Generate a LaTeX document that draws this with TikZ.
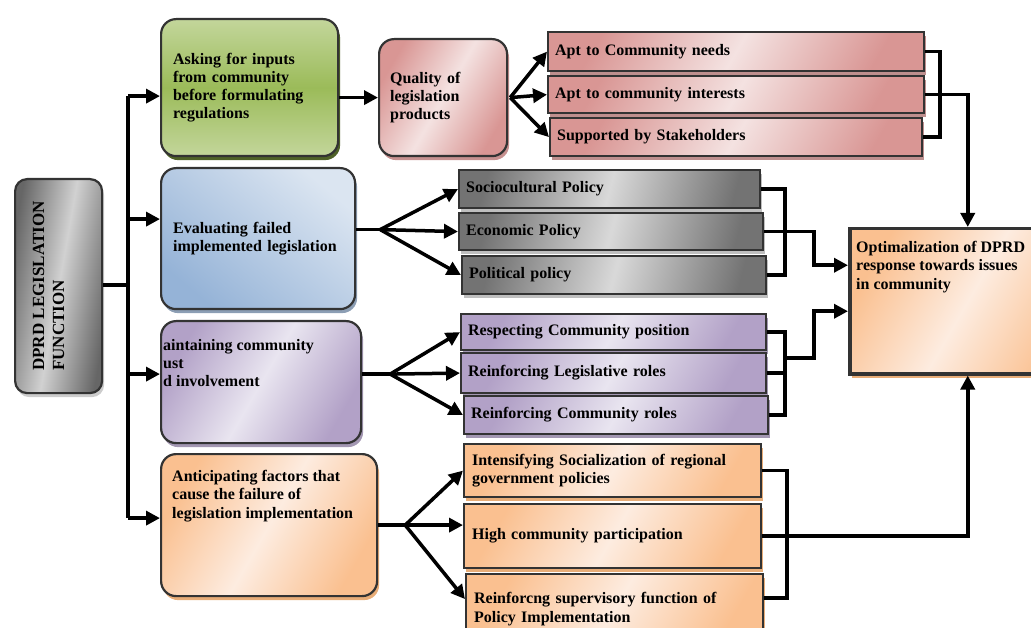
\documentclass[tikz,border=0pt]{standalone}
\usepackage{fontspec}
\setmainfont{Liberation Serif}
\usepackage{tikz}
\usetikzlibrary{arrows.meta,positioning,shadows,calc}

\definecolor{grnL}{HTML}{C3D69B}
\definecolor{grnD}{HTML}{9BBB59}
\definecolor{grnS}{HTML}{4F6228}
\definecolor{bluL}{HTML}{DBE5F1}
\definecolor{bluD}{HTML}{95B3D7}
\definecolor{purL}{HTML}{E9E5F0}
\definecolor{purD}{HTML}{B2A1C7}
\definecolor{orgL}{HTML}{FDECE0}
\definecolor{orgD}{HTML}{FAC090}
\definecolor{pnkL}{HTML}{F4E2E1}
\definecolor{pnkD}{HTML}{D99694}
\definecolor{edge}{HTML}{333333}

\newcommand{\fdfont}{\fontsize{16}{18.3}\selectfont\bfseries}

\tikzset{
  fd/frame/.style={draw=edge, line width=2.2pt, anchor=north west, inner ysep=0pt},
  fd/box/.style={fd/frame, rounded corners=15pt, align=left, font=\fdfont, inner xsep=12pt},
  fd/bar/.style={fd/frame, align=left, font=\fdfont, inner xsep=7pt},
  fd/label/.style={anchor=north west, align=left, inner sep=0pt, font=\fdfont},
  fd/tint/.style 2 args={left color=#1, right color=#1, middle color=#2, shading angle=60},
  fd/shade/.style={drop shadow={shadow xshift=2pt, shadow yshift=-4pt, fill=#1, opacity=1}},
  fd/line/.style={line width=3.5pt},
  fd/arrow/.style={fd/line, -{Triangle[length=14pt,width=14pt]}}
}

\begin{document}
\begin{tikzpicture}[x=1pt, y=-1pt]
  \useasboundingbox (0,0) rectangle (1031,628);
  \clip (0,0) rectangle (1031,628);

  \node[fd/box, rounded corners=12pt, fd/tint={black!60}{black!18}, shading angle=80, fd/shade=black!20, minimum width=87pt, minimum height=214pt] (dprd) at (14,178) {};
  \node[fd/label, font=\fontsize{17}{20}\selectfont\bfseries, rotate=90, anchor=center] (dprd-t) at ([xshift=-10pt]dprd.center) {DPRD LEGISLATION\\FUNCTION};

  \node[fd/box, top color=grnL, bottom color=grnL, middle color=grnD, fd/shade=grnS, text width=153pt, minimum height=137pt] (inputs) at (160,18) {Asking for inputs\\from community\\before formulating\\regulations};
  \node[fd/box, bottom color=bluD, top color=bluL, shading angle=-40, fd/shade=bluD!60!gray, text width=170pt, minimum height=141pt] (eval) at (160,167) {Evaluating failed\\implemented legislation};
  \node[fd/box, fd/tint={purD}{purL}, fd/shade=purD!70!gray, minimum width=200pt, minimum height=122pt] (trust) at (160,320) {};
  \node[fd/label] (trust-t) at ([xshift=3pt,yshift=-19pt]trust.north west) {aintaining community\\ust\\d involvement};
  \node[fd/box, fd/tint={orgD}{orgL}, fd/shade=orgD!70!brown, minimum width=216pt, minimum height=142pt] (fail) at (160,453) {};
  \node[fd/label] (fail-t) at ([xshift=12pt,yshift=-17pt]fail.north west) {Anticipating factors that\\cause the failure of\\legislation implementation};

  \node[fd/box, inner xsep=11pt, fd/tint={pnkD}{pnkL}, fd/shade=pnkD!80!gray, text width=106pt, minimum height=117pt] (quality) at (378,38) {Quality of\\legislation\\products};

  \node[fd/bar, fd/tint={pnkD}{pnkL}, fd/shade=pnkD!70!gray, text width=362pt, minimum height=39pt] (need1) at (547,31) {Apt to Community needs};
  \node[fd/bar, fd/tint={pnkD}{pnkL}, fd/shade=pnkD!70!gray, text width=362pt, minimum height=37pt] (need2) at (547,75) {Apt to community interests};
  \node[fd/bar, fd/tint={pnkD}{pnkL}, fd/shade=pnkD!70!gray, text width=358pt, minimum height=38pt] (need3) at (549,117) {Supported by Stakeholders};

  \node[fd/bar, fd/tint={black!55}{black!15}, shading angle=75, fd/shade=black!25, text width=287pt, minimum height=38pt] (soc) at (458,169) {Sociocultural Policy};
  \node[fd/bar, fd/tint={black!55}{black!15}, shading angle=75, fd/shade=black!25, text width=290pt, minimum height=37pt] (eco) at (458,212) {Economic Policy};
  \node[fd/bar, fd/tint={black!55}{black!15}, shading angle=75, fd/shade=black!25, text width=290pt, minimum height=38pt] (pol) at (461,255) {Political policy};

  \node[fd/bar, fd/tint={purD}{purL}, fd/shade=purD!70!gray, text width=291pt, minimum height=36pt] (pos) at (460,313) {Respecting Community position};
  \node[fd/bar, fd/tint={purD}{purL}, fd/shade=purD!70!gray, text width=291pt, minimum height=40pt] (leg) at (460,352) {Reinforcing Legislative roles};
  \node[fd/bar, fd/tint={purD}{purL}, fd/shade=purD!70!gray, text width=290pt, minimum height=38pt] (com) at (463,395) {Reinforcing Community roles};

  \node[fd/bar, inner xsep=8pt, fd/tint={orgD}{orgL}, fd/shade=orgD!70!brown, text width=281pt, minimum height=53pt] (soz) at (463,443) {Intensifying Socialization of regional\\government policies};
  \node[fd/bar, inner xsep=8pt, fd/tint={orgD}{orgL}, fd/shade=orgD!70!brown, text width=281pt, minimum height=64pt] (part) at (463,503) {High community participation};
  \node[fd/bar, inner xsep=8pt, fd/tint={orgD}{orgL}, fd/shade=orgD!70!brown, text width=281pt, minimum height=70pt] (sup) at (465,573) {Reinforcng supervisory function of\\Policy Implementation};

  \node[fd/frame, line width=3.5pt, fd/tint={orgD}{orgL}, fd/shade=orgD!70!brown, minimum width=236pt, minimum height=145pt] (res) at (848,227) {};
  \node[fd/label] (res-t) at ([xshift=8pt,yshift=-14pt]res.north west) {Optimalization of DPRD\\response towards issues\\in community};

  \coordinate (trunk) at (128,285);
  \coordinate (ain) at ([yshift=-8.5pt]inputs.west);
  \coordinate (ein) at ([yshift=19.5pt]eval.west);
  \coordinate (tin) at ([yshift=8pt]trust.west);
  \coordinate (fin) at ([yshift=7pt]fail.west);
  \coordinate (qfan) at ([xshift=2pt]quality.east);
  \coordinate (efan) at ([xshift=24pt,yshift=9pt]eval.east);
  \coordinate (tfan) at ([xshift=28pt,yshift=8pt]trust.east);
  \coordinate (ffan) at ([xshift=27pt]fail.east);
  \coordinate (pmid) at ([xshift=18pt,yshift=15pt]leg.east);
  \coordinate (rin1) at ([yshift=36pt]res.west);
  \coordinate (rin2) at ([yshift=-10pt]res.west);

  \draw[fd/line] (dprd.east |- trunk) -- (trunk);
  \draw[fd/line] (trunk |- ain) -- (trunk |- fin);
  \draw[fd/arrow] (trunk |- ain) -- (ain);
  \draw[fd/arrow] (trunk |- ein) -- (ein);
  \draw[fd/arrow] (trunk |- tin) -- (tin);
  \draw[fd/arrow] (trunk |- fin) -- (fin);

  \draw[fd/arrow] (inputs.east |- quality.west) -- (quality.west);
  \draw[fd/arrow] (qfan) -- (need1.west);
  \draw[fd/arrow] (qfan) -- (need2.west);
  \draw[fd/arrow] (qfan) -- (need3.west);
  \draw[fd/line] (need1.east) -- ++(15,0) |- (need3.east);
  \draw[fd/arrow] (need2.east) -| (res.north);

  \draw[fd/line] (eval.east |- efan) -- (efan);
  \draw[fd/arrow] (efan) -- (soc.west);
  \draw[fd/arrow] (efan) -- (eco.west);
  \draw[fd/arrow] (efan) -- (pol.west);
  \draw[fd/line] (soc.east) -- ++(24,0) |- (pol.east);
  \draw[fd/arrow] (eco.east) -- ++(50,0) |- (rin1);

  \draw[fd/line] (trust.east |- tfan) -- (tfan);
  \draw[fd/arrow] (tfan) -- (pos.west);
  \draw[fd/arrow] (tfan) -- (leg.west);
  \draw[fd/arrow] (tfan) -- (com.west);
  \draw[fd/line] (pos.east) -- ++(18,0) |- (com.east);
  \draw[fd/line] (leg.east) -- ++(18,0);
  \draw[fd/arrow] (pmid) -- ++(29,0) |- (rin2);

  \draw[fd/line] (fail.east |- ffan) -- (ffan);
  \draw[fd/arrow] (ffan) -- (soz.west);
  \draw[fd/arrow] (ffan) -- (part.west |- ffan);
  \draw[fd/arrow] (ffan) -- ([yshift=10pt]sup.west);
  \draw[fd/line] (soz.east) -- ++(25,0) |- ([yshift=11pt]sup.east);
  \draw[fd/arrow] (part.east) -| (res.south);
\end{tikzpicture}
\end{document}
